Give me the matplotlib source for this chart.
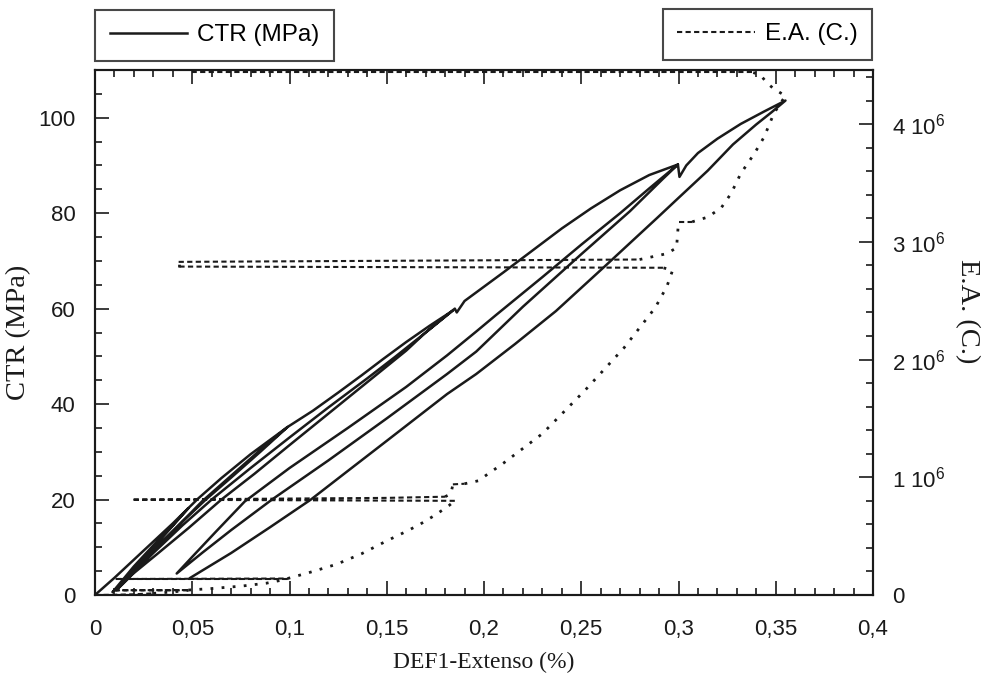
import matplotlib
matplotlib.use("Agg")
import matplotlib.pyplot as plt
from matplotlib.lines import Line2D
from matplotlib.ticker import MultipleLocator

# CTR (MPa) against DEF1-Extenso (%): virgin loading with five unload/reload cycles
ctr_strain = [
    0.000, 0.010, 0.020, 0.030, 0.040, 0.048,
    0.040, 0.030, 0.020, 0.009,
    0.015, 0.025, 0.035, 0.048,
    0.053, 0.065, 0.080, 0.099,
    0.085, 0.070, 0.057, 0.045, 0.033, 0.021, 0.011,
    0.018, 0.030, 0.043, 0.055, 0.070, 0.085, 0.099,
    0.112, 0.125, 0.137, 0.148, 0.160, 0.172, 0.184,
    0.170, 0.160, 0.140, 0.120, 0.100, 0.082, 0.065, 0.048, 0.032, 0.017,
    0.030, 0.045, 0.060, 0.080, 0.100, 0.120, 0.140, 0.154, 0.170, 0.185,
    0.186, 0.190, 0.196, 0.210, 0.225, 0.240, 0.255, 0.270, 0.285, 0.2997,
    0.292, 0.284, 0.275, 0.250, 0.220, 0.196, 0.181, 0.150, 0.120, 0.091, 0.070, 0.055, 0.042,
    0.050, 0.062, 0.077, 0.100, 0.130, 0.160, 0.181, 0.196, 0.206, 0.230, 0.250, 0.270, 0.285, 0.2997,
    0.3005, 0.304, 0.310, 0.320, 0.332, 0.344, 0.355,
    0.348, 0.340, 0.328, 0.315, 0.300, 0.289, 0.263, 0.237, 0.216, 0.196, 0.181, 0.150, 0.130, 0.111,
    0.090, 0.070, 0.049,
]
ctr_stress = [
    0.0, 3.6, 7.4, 11.2, 15.0, 18.2,
    14.6, 10.4, 6.0, 0.6,
    3.0, 7.6, 12.2, 18.2,
    20.2, 24.5, 29.5, 35.2,
    30.0, 24.6, 20.0, 15.4, 10.6, 5.5, 1.0,
    3.8, 9.2, 14.6, 19.6, 25.0, 30.4, 35.2,
    38.6, 42.4, 46.0, 49.4, 53.0, 56.4, 59.6,
    55.0, 51.2, 44.6, 38.0, 31.4, 25.4, 20.0, 14.0, 8.6, 3.6,
    8.8, 14.6, 20.0, 26.6, 33.0, 39.3, 45.4, 49.8, 55.0, 60.0,
    59.2, 61.6, 63.4, 67.6, 72.2, 76.8, 81.0, 84.8, 88.0, 90.2,
    87.2, 84.0, 80.4, 71.4, 60.4, 51.0, 46.3, 37.0, 28.2, 20.0, 13.6, 8.8, 4.5,
    8.0, 13.2, 19.6, 26.6, 35.0, 43.6, 50.2, 55.2, 58.6, 66.6, 73.4, 80.0, 85.2, 90.2,
    87.6, 90.0, 92.6, 95.6, 98.7, 101.3, 103.6,
    101.2, 98.6, 94.4, 88.9, 83.2, 79.0, 69.2, 59.5, 52.6, 46.3, 42.1, 32.3, 26.0, 20.0,
    14.2, 8.8, 3.6,
]

# E.A. (C.) cumulative acoustic emission, in units of 10^6
ea_strain = [
    0.000, 0.010, 0.020, 0.030, 0.040, 0.048,
    0.009, 0.048,
    0.060, 0.075, 0.088, 0.099,
    0.011, 0.099,
    0.110, 0.124, 0.137, 0.150, 0.160, 0.167, 0.175, 0.182, 0.185,
    0.019, 0.150, 0.180, 0.183,
    0.184, 0.190, 0.197,
    0.210, 0.230, 0.252, 0.272, 0.288, 0.294, 0.297,
    0.292, 0.043,
    0.043, 0.280, 0.294, 0.299,
    0.300, 0.307, 0.315, 0.322, 0.327, 0.332, 0.339, 0.344, 0.349, 0.3525, 0.355,
    0.349, 0.3455, 0.342, 0.338, 0.050,
]
ea_count = [
    0.000, 0.002, 0.006, 0.014, 0.026, 0.040,
    0.040, 0.042,
    0.055, 0.075, 0.100, 0.136,
    0.136, 0.140,
    0.190, 0.260, 0.350, 0.460, 0.540, 0.600, 0.680, 0.760, 0.800,
    0.810, 0.825, 0.835, 0.860,
    0.940, 0.945, 0.970,
    1.120, 1.370, 1.740, 2.100, 2.440, 2.620, 2.760,
    2.780, 2.790,
    2.830, 2.850, 2.900, 2.950,
    3.170, 3.170, 3.210, 3.290, 3.410, 3.580, 3.750, 3.890, 4.090, 4.180, 4.240,
    4.300, 4.350, 4.420, 4.440, 4.440,
]

x_ticks = [0, 0.05, 0.1, 0.15, 0.2, 0.25, 0.3, 0.35, 0.4]
x_tick_labels = ["0", "0,05", "0,1", "0,15", "0,2", "0,25", "0,3", "0,35", "0,4"]
y_ticks = [0, 20, 40, 60, 80, 100]
ea_ticks = [0, 1, 2, 3, 4]
ea_tick_labels = ["0", "1 10$^6$", "2 10$^6$", "3 10$^6$", "4 10$^6$"]

SANS = "Liberation Sans"
SERIF = "Liberation Serif"
INK = "#1a1a1a"
DASHED = (0, (2.5, 1.6))
DOTTED = (0, (1, 3))

plt.rcParams["font.family"] = [SANS, "DejaVu Sans"]
plt.rcParams["mathtext.fontset"] = "custom"
plt.rcParams["mathtext.rm"] = SANS
plt.rcParams["mathtext.it"] = SANS + ":italic"


def ea_runs(xs, ys, flat=1.0):
    """Split the E.A. record into flat stretches (unloading) and ramps."""
    runs, cur, cur_flat = [], [0], None
    for i in range(1, len(xs)):
        dx, dy = xs[i] - xs[i - 1], ys[i] - ys[i - 1]
        is_flat = abs(dy) <= flat * abs(dx)
        if cur_flat is None or is_flat == cur_flat:
            cur.append(i)
        else:
            runs.append((cur_flat, cur))
            cur = [i - 1, i]
        cur_flat = is_flat
    runs.append((cur_flat, cur))
    return runs


fig = plt.figure(figsize=(9.92, 6.79), dpi=100)
ax = fig.add_axes([95 / 992, 1 - 595 / 679, 778 / 992, 525 / 679])
ax2 = ax.twinx()

ax.plot(ctr_strain, ctr_stress, color=INK, lw=1.8, solid_joinstyle="round", zorder=3)

for flat, idx in ea_runs(ea_strain, ea_count):
    xs = [ea_strain[i] for i in idx]
    ys = [ea_count[i] for i in idx]
    if flat:
        ax2.plot(xs, ys, color=INK, lw=1.5, ls=DASHED, zorder=2)
    else:
        ax2.plot(xs, ys, color=INK, lw=2.0, ls=DOTTED, zorder=2)

ax.set_xlim(0, 0.4)
ax.set_ylim(0, 110)
ax2.set_ylim(0, 4.46)

ax.set_xticks(x_ticks)
ax.set_xticklabels(x_tick_labels)
ax.xaxis.set_minor_locator(MultipleLocator(0.01))
ax.set_yticks(y_ticks)
ax.yaxis.set_minor_locator(MultipleLocator(5))
ax2.set_yticks(ea_ticks)
ax2.set_yticklabels(ea_tick_labels)
ax2.yaxis.set_minor_locator(MultipleLocator(0.2))

ax.tick_params(axis="x", which="both", direction="in", top=True, bottom=True,
               labelsize=16, pad=17, width=1.2, colors=INK)
ax.tick_params(axis="y", which="both", direction="in", left=True, right=False,
               labelsize=16, pad=14, width=1.2, colors=INK)
ax2.tick_params(axis="y", which="both", direction="in", right=True, left=False,
                labelsize=16, pad=14, width=1.2, colors=INK)
for a in (ax, ax2):
    a.tick_params(which="major", length=10)
    a.tick_params(which="minor", length=5)
    for spine in a.spines.values():
        spine.set_linewidth(1.5)
        spine.set_color(INK)

ax.set_xlabel("DEF1-Extenso (%)", family=SERIF, fontsize=17, labelpad=9, color=INK)
ax.set_ylabel("CTR (MPa)", family=SERIF, fontsize=20.5, labelpad=5, color=INK)
ax2.set_ylabel("E.A. (C.)", family=SERIF, fontsize=20.5, rotation=270, color=INK)
ax2.yaxis.set_label_coords(1.138, 0.54)

leg_kw = dict(fontsize=17.5, frameon=True, fancybox=False, borderpad=0.6,
              handlelength=3.2, handletextpad=0.4, borderaxespad=0,
              bbox_transform=fig.transFigure)
leg1 = ax.legend([Line2D([], [], color=INK, lw=1.8)], ["CTR (MPa)"],
                 loc="lower left", bbox_to_anchor=(95 / 992, 1 - 61 / 679), **leg_kw)
leg2 = ax2.legend([Line2D([], [], color=INK, lw=1.5, ls=DASHED)], ["E.A. (C.)"],
                  loc="lower right", bbox_to_anchor=(872 / 992, 1 - 60 / 679), **leg_kw)
for leg in (leg1, leg2):
    leg.get_frame().set_edgecolor(INK)
    leg.get_frame().set_linewidth(1.5)

fig.savefig("out.png", dpi=100)
